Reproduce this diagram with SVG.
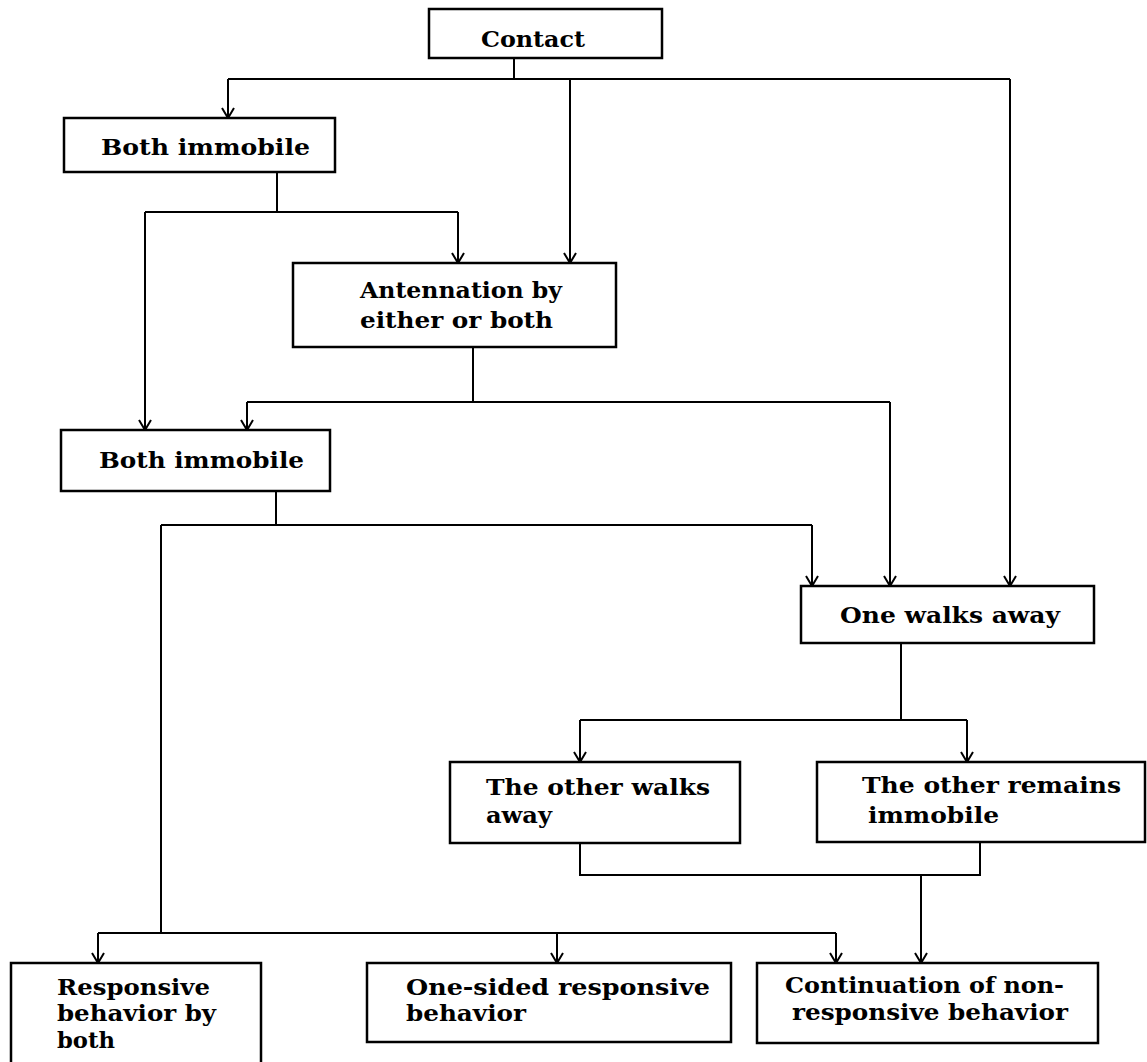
<svg xmlns="http://www.w3.org/2000/svg" width="1147" height="1062" viewBox="0 0 1147 1062">
<style>
.box{fill:#fff;stroke:#000;stroke-width:2.5}
.t{font-family:"DejaVu Serif","Liberation Serif",serif;font-weight:bold;font-size:22px;fill:#000}
.c{fill:none;stroke:#000;stroke-width:2}
</style>
<defs>
<marker id="ah" viewBox="-12 -8 14 16" markerWidth="14" markerHeight="16" refX="0" refY="0" orient="auto" markerUnits="userSpaceOnUse">
<path d="M-10,-6 L0,0 L-10,6" fill="none" stroke="#000" stroke-width="2"/>
</marker>
</defs>
<rect width="1147" height="1062" fill="#fff"/>
<g id="connectors" class="c">
<path d="M514,58 V79"/>
<path d="M228,79 H1010"/>
<path d="M228,79 V118" marker-end="url(#ah)"/>
<path d="M570,79 V263" marker-end="url(#ah)"/>
<path d="M1010,79 V586" marker-end="url(#ah)"/>
<path d="M277,172 V212"/>
<path d="M145,212 H458"/>
<path d="M145,212 V430" marker-end="url(#ah)"/>
<path d="M458,212 V263" marker-end="url(#ah)"/>
<path d="M473,347 V402"/>
<path d="M247,402 H890"/>
<path d="M247,402 V430" marker-end="url(#ah)"/>
<path d="M890,402 V586" marker-end="url(#ah)"/>
<path d="M276,491 V525"/>
<path d="M161,525 H812"/>
<path d="M812,525 V586" marker-end="url(#ah)"/>
<path d="M161,525 V933"/>
<path d="M901,643 V720"/>
<path d="M580,720 H967"/>
<path d="M580,720 V762" marker-end="url(#ah)"/>
<path d="M967,720 V762" marker-end="url(#ah)"/>
<path d="M580,843 V875 H980 V842"/>
<path d="M921,875 V963" marker-end="url(#ah)"/>
<path d="M98,933 H836"/>
<path d="M98,933 V963" marker-end="url(#ah)"/>
<path d="M557,933 V963" marker-end="url(#ah)"/>
<path d="M836,933 V963" marker-end="url(#ah)"/>
</g>
<g id="contact"><rect class="box" x="429" y="9" width="233" height="49"/><text class="t" x="481" y="47" textLength="104" lengthAdjust="spacingAndGlyphs">Contact</text></g>
<g id="both-immobile-1"><rect class="box" x="64" y="118" width="271" height="54"/><text class="t" x="101" y="155" textLength="209" lengthAdjust="spacingAndGlyphs">Both immobile</text></g>
<g id="antennation"><rect class="box" x="293" y="263" width="323" height="84"/><text class="t" x="360" y="298" textLength="202" lengthAdjust="spacingAndGlyphs">Antennation by</text><text class="t" x="360" y="328" textLength="193" lengthAdjust="spacingAndGlyphs">either or both</text></g>
<g id="both-immobile-2"><rect class="box" x="61" y="430" width="269" height="61"/><text class="t" x="99" y="468" textLength="205" lengthAdjust="spacingAndGlyphs">Both immobile</text></g>
<g id="one-walks-away"><rect class="box" x="801" y="586" width="293" height="57"/><text class="t" x="840" y="623" textLength="220" lengthAdjust="spacingAndGlyphs">One walks away</text></g>
<g id="other-walks-away"><rect class="box" x="450" y="762" width="290" height="81"/><text class="t" x="486" y="795" textLength="224" lengthAdjust="spacingAndGlyphs">The other walks</text><text class="t" x="486" y="823" textLength="66" lengthAdjust="spacingAndGlyphs">away</text></g>
<g id="other-remains"><rect class="box" x="817" y="762" width="328" height="80"/><text class="t" x="862" y="793" textLength="259" lengthAdjust="spacingAndGlyphs">The other remains</text><text class="t" x="868" y="823" textLength="131" lengthAdjust="spacingAndGlyphs">immobile</text></g>
<g id="responsive-both"><rect class="box" x="11" y="963" width="250" height="110"/><text class="t" x="57" y="995" textLength="153" lengthAdjust="spacingAndGlyphs">Responsive</text><text class="t" x="57" y="1021" textLength="159" lengthAdjust="spacingAndGlyphs">behavior by</text><text class="t" x="57" y="1048" textLength="58" lengthAdjust="spacingAndGlyphs">both</text></g>
<g id="one-sided"><rect class="box" x="367" y="963" width="364" height="79"/><text class="t" x="406" y="995" textLength="304" lengthAdjust="spacingAndGlyphs">One-sided responsive</text><text class="t" x="406" y="1021" textLength="120" lengthAdjust="spacingAndGlyphs">behavior</text></g>
<g id="continuation"><rect class="box" x="757" y="963" width="341" height="80"/><text class="t" x="785" y="993" textLength="279" lengthAdjust="spacingAndGlyphs">Continuation of non-</text><text class="t" x="792" y="1020" textLength="276" lengthAdjust="spacingAndGlyphs">responsive behavior</text></g>
</svg>
